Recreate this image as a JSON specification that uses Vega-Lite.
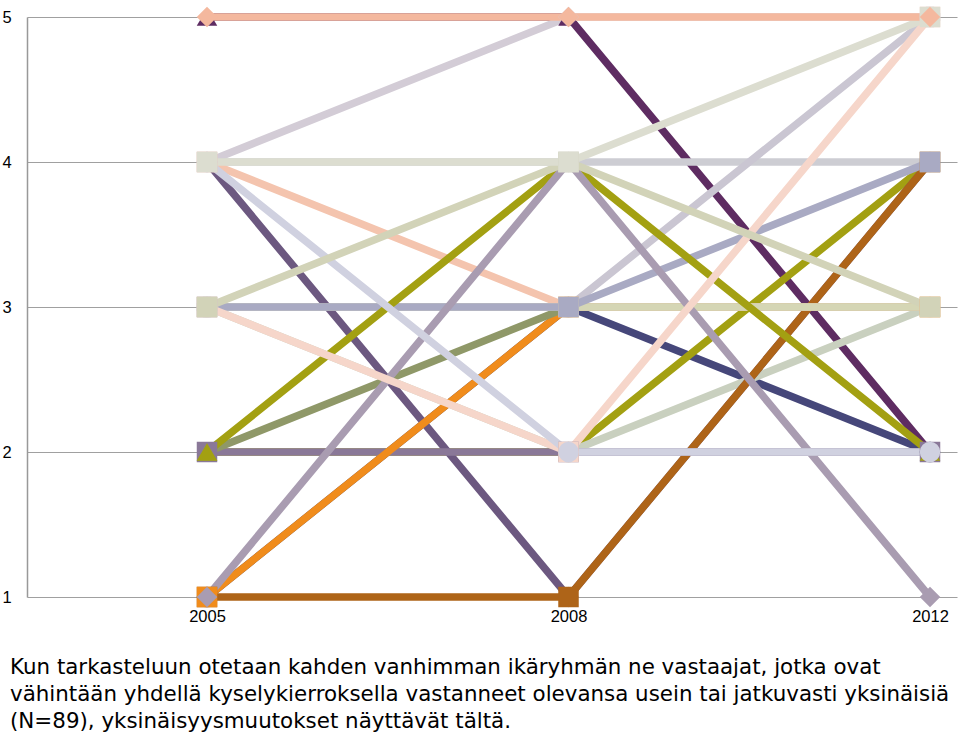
{
  "$schema": "https://vega.github.io/schema/vega-lite/v6.json",
  "autosize": "none",
  "width": 930,
  "height": 580,
  "padding": {"left": 27, "top": 17, "right": 3, "bottom": 145},
  "background": "white",
  "config": {"view": {"stroke": null}, "font": "Liberation Sans"},
  "title": {
    "text": ["Kun tarkasteluun otetaan kahden vanhimman ikäryhmän ne vastaajat, jotka ovat", "vähintään yhdellä kyselykierroksella vastanneet olevansa usein tai jatkuvasti yksinäisiä", "(N=89), yksinäisyysmuutokset näyttävät tältä."],
    "orient": "bottom",
    "anchor": "start",
    "frame": "group",
    "dx": -17,
    "offset": 32,
    "fontSize": 21.4,
    "fontWeight": "normal",
    "lineHeight": 27,
    "color": "#000000",
    "font": "DejaVu Sans"
  },
  "data": {"values": [
    {"s": "s01", "year": "2005", "v": 5}, {"s": "s01", "year": "2008", "v": 5}, {"s": "s01", "year": "2012", "v": 2},
    {"s": "s02", "year": "2005", "v": 4}, {"s": "s02", "year": "2008", "v": 5}, {"s": "s02", "year": "2012", "v": 5},
    {"s": "s03", "year": "2005", "v": 1}, {"s": "s03", "year": "2008", "v": 3}, {"s": "s03", "year": "2012", "v": 2},
    {"s": "s04", "year": "2005", "v": 2}, {"s": "s04", "year": "2008", "v": 2}, {"s": "s04", "year": "2012", "v": 4},
    {"s": "s05", "year": "2005", "v": 4}, {"s": "s05", "year": "2008", "v": 4}, {"s": "s05", "year": "2012", "v": 4},
    {"s": "s06", "year": "2005", "v": 3}, {"s": "s06", "year": "2008", "v": 3}, {"s": "s06", "year": "2012", "v": 5},
    {"s": "s07", "year": "2005", "v": 3}, {"s": "s07", "year": "2008", "v": 2}, {"s": "s07", "year": "2012", "v": 3},
    {"s": "s08", "year": "2005", "v": 4}, {"s": "s08", "year": "2008", "v": 1}, {"s": "s08", "year": "2012", "v": 4},
    {"s": "s09", "year": "2005", "v": 1}, {"s": "s09", "year": "2008", "v": 1}, {"s": "s09", "year": "2012", "v": 4},
    {"s": "s10", "year": "2005", "v": 2}, {"s": "s10", "year": "2008", "v": 2}, {"s": "s10", "year": "2012", "v": 2},
    {"s": "s11", "year": "2005", "v": 1}, {"s": "s11", "year": "2008", "v": 3}, {"s": "s11", "year": "2012", "v": 3},
    {"s": "s12", "year": "2005", "v": 2}, {"s": "s12", "year": "2008", "v": 3}, {"s": "s12", "year": "2012", "v": 3},
    {"s": "s15", "year": "2005", "v": 4}, {"s": "s15", "year": "2008", "v": 3}, {"s": "s15", "year": "2012", "v": 3},
    {"s": "s14", "year": "2005", "v": 3}, {"s": "s14", "year": "2008", "v": 3}, {"s": "s14", "year": "2012", "v": 3},
    {"s": "s13", "year": "2005", "v": 3}, {"s": "s13", "year": "2008", "v": 3}, {"s": "s13", "year": "2012", "v": 4},
    {"s": "s16", "year": "2005", "v": 2}, {"s": "s16", "year": "2008", "v": 4}, {"s": "s16", "year": "2012", "v": 2},
    {"s": "s17", "year": "2005", "v": 1}, {"s": "s17", "year": "2008", "v": 4}, {"s": "s17", "year": "2012", "v": 1},
    {"s": "s18", "year": "2005", "v": 3}, {"s": "s18", "year": "2008", "v": 2}, {"s": "s18", "year": "2012", "v": 5},
    {"s": "s19", "year": "2005", "v": 4}, {"s": "s19", "year": "2008", "v": 2}, {"s": "s19", "year": "2012", "v": 2},
    {"s": "s20", "year": "2005", "v": 3}, {"s": "s20", "year": "2008", "v": 4}, {"s": "s20", "year": "2012", "v": 3},
    {"s": "s21", "year": "2005", "v": 4}, {"s": "s21", "year": "2008", "v": 4}, {"s": "s21", "year": "2012", "v": 5},
    {"s": "s22", "year": "2005", "v": 5}, {"s": "s22", "year": "2008", "v": 5}, {"s": "s22", "year": "2012", "v": 5}
  ]},
  "encoding": {
    "x": {
      "field": "year", "type": "ordinal",
      "scale": {"type": "point", "domain": ["2005", "2008", "2012"], "padding": 0.2863, "align": 0.8696},
      "axis": {"title": null, "domain": false, "ticks": false, "grid": false, "labelAngle": 0, "labelFontSize": 16.5, "labelColor": "#000000", "labelPadding": 11, "labelFont": "Liberation Sans"}
    },
    "y": {
      "field": "v", "type": "quantitative",
      "scale": {"domain": [1, 5], "nice": false, "zero": false},
      "axis": {"title": null, "values": [1, 2, 3, 4, 5], "ticks": false, "domain": true, "domainColor": "#999999", "domainWidth": 1.5, "grid": true, "gridColor": "#A0A0A0", "gridWidth": 1.2, "gridOpacity": 1, "labelFontSize": 16.5, "labelColor": "#000000", "labelPadding": 25, "labelAlign": "left", "labelFont": "Liberation Sans"}
    },
    "color": {
      "field": "s", "type": "nominal", "legend": null,
      "scale": {
        "domain": ["s01","s02","s03","s04","s05","s06","s07","s08","s09","s10","s11","s12","s13","s14","s15","s16","s17","s18","s19","s20","s21","s22"],
        "range": ["#5E2C62","#D3CCD6","#46477A","#A3A012","#CDCDD3","#CAC6D2","#C9D0BF","#6C5880","#AE6418","#8A7898","#F08C1C","#8F9868","#A9AAC3","#D5D6B5","#F4C4AE","#A3A012","#A99CB1","#F6D6CA","#D0D1E0","#D2D3B8","#DCDDD0","#F4B89E"]
      }
    }
  },
  "layer": [
    {
      "mark": {"type": "line", "strokeWidth": 7.5, "strokeCap": "butt", "strokeJoin": "miter"},
      "encoding": {"detail": {"field": "s"}}
    },
    {
      "mark": {"type": "point", "filled": true, "opacity": 1, "size": 420},
      "encoding": {
        "shape": {
          "field": "s", "type": "nominal", "legend": null,
          "scale": {
            "domain": ["s01","s02","s03","s04","s05","s06","s07","s08","s09","s10","s11","s12","s13","s14","s15","s16","s17","s18","s19","s20","s21","s22"],
            "range": ["triangle-up","diamond","circle","triangle-up","square","cross","circle","diamond","square","square","square","triangle-up","square","square","square","triangle-up","diamond","square","circle","square","square","diamond"]
          }
        }
      }
    }
  ]
}
